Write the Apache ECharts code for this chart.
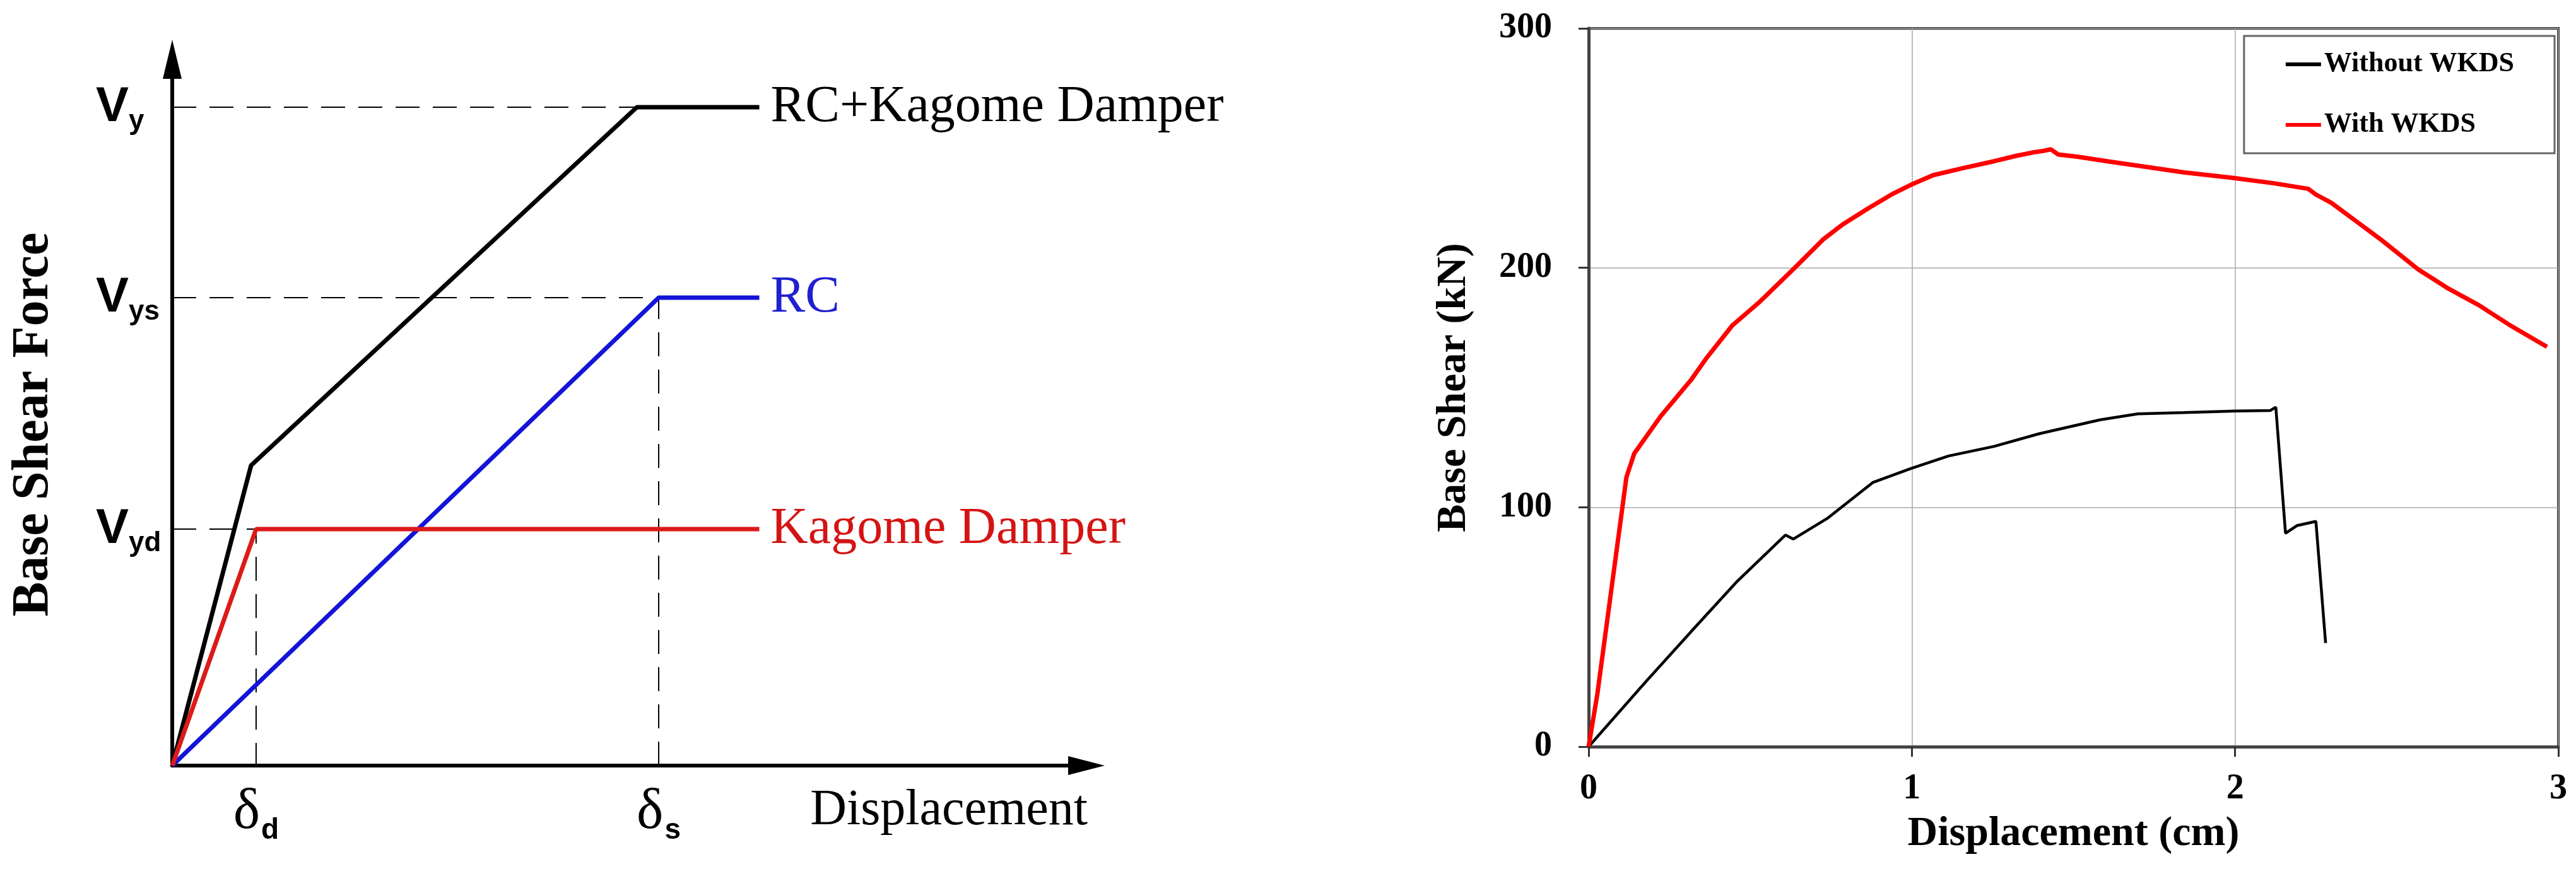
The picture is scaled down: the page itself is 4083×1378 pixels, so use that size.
<!DOCTYPE html>
<html><head><meta charset="utf-8">
<script src="https://cdn.jsdelivr.net/npm/echarts@6/dist/echarts.min.js"></script>
<style>html,body{margin:0;padding:0;background:#fff}#c{width:4083px;height:1378px}</style>
</head><body><div id="c"></div>
<script>
// ---------- Left panel (schematic) ----------
const schemNames = ['RC+Kagome Damper', 'RC', 'Kagome Damper'];
const deltaD = 1.0, deltaS = 5.8;
const Vyd = 3.75, Vys = 7.42, Vy = 10.44;
const combinedX = [0, 0.94, 5.54, 7.0];
const combinedY = [0, 4.76, 10.44, 10.44];
const rcX = [0, 5.8, 7.0];
const rcY = [0, 7.42, 7.42];
const damperX = [0, 1.0, 7.0];
const damperY = [0, 3.75, 3.75];
const yTickValues = [Vyd, Vys, Vy];
const yTickSubs = ['yd', 'ys', 'y'];
const xTickValues = [deltaD, deltaS];
const xTickSubs = ['d', 's'];

// ---------- Right panel (test results) ----------
const legendNames = ['Without WKDS', 'With WKDS'];
const dispWithout = [0, 0.176, 0.316, 0.457, 0.609, 0.633, 0.738, 0.879, 0.996, 1.113, 1.254, 1.394, 1.582, 1.699, 1.84, 2.004, 2.109, 2.126, 2.156, 2.191, 2.25, 2.28];
const shearWithout = [0, 27, 47.9, 68.7, 88.4, 86.7, 95.3, 110.3, 116.1, 121.4, 125.4, 130.7, 136.5, 139, 139.5, 140.2, 140.4, 141.8, 89.1, 92.3, 94.1, 43.3];
const dispWith = [0, 0.027, 0.117, 0.141, 0.223, 0.316, 0.363, 0.445, 0.527, 0.633, 0.727, 0.785, 0.867, 0.937, 0.996, 1.066, 1.16, 1.254, 1.324, 1.383, 1.406, 1.43, 1.453, 1.512, 1.605, 1.723, 1.84, 1.992, 2.12, 2.226, 2.25, 2.297, 2.379, 2.449, 2.566, 2.66, 2.754, 2.847, 2.965];
const shearWith = [0, 22, 112.6, 122.4, 138, 153, 162, 176, 185.5, 199.4, 212, 218, 225, 230.6, 234.6, 238.7, 241.7, 244.5, 246.8, 248.4, 248.8, 249.5, 247.3, 246.4, 244.5, 242.2, 239.9, 237.6, 235.3, 233, 230.6, 227.2, 219, 212, 199.4, 191.3, 184.4, 176.3, 167];

function zip(a, b) { return a.map((v, i) => [v, b[i]]); }
function idxOf(arr, v) { for (let i = 0; i < arr.length; i++) if (Math.abs(arr[i] - v) < 1e-6) return i; return -1; }

const serif = 'Liberation Serif';
const sans = 'Liberation Sans';
const dash = { color: '#000', width: 2, type: [38, 21] };

const chart = echarts.init(document.getElementById('c'), null, { renderer: 'canvas' });
chart.setOption({
  animation: false,
  backgroundColor: '#fff',
  grid: [
    { left: 273, top: 94, width: 1449, height: 1120, containLabel: false },
    { left: 2518, top: 45, width: 1537, height: 1139, containLabel: false, show: true, borderColor: '#333', borderWidth: 4, backgroundColor: 'transparent' }
  ],
  legend: {
    data: legendNames, orient: 'vertical', right: 34, top: 57,
    itemWidth: 56, itemHeight: 6, icon: 'rect', itemGap: 52,
    padding: [23, 64, 23, 66], borderColor: '#666', borderWidth: 3, backgroundColor: '#fff',
    textStyle: { fontFamily: serif, fontWeight: 'bold', fontSize: 44, color: '#000' }
  },
  xAxis: [
    {
      gridIndex: 0, type: 'value', min: 0, max: 10.9,
      axisLine: { show: true, symbol: ['none', 'triangle'], symbolSize: [30, 58], lineStyle: { color: '#000', width: 6 } },
      axisTick: { show: false }, splitLine: { show: false },
      axisLabel: {
        customValues: xTickValues, margin: 24,
        formatter: v => { const i = idxOf(xTickValues, v); return i < 0 ? '' : '{d|δ}{s|' + xTickSubs[i] + '}'; },
        rich: {
          d: { fontFamily: serif, fontSize: 90, color: '#000' },
          s: { fontFamily: sans, fontWeight: 'bold', fontSize: 46, color: '#000', padding: [56, 0, 0, 2] }
        }
      },
      name: 'Displacement', nameLocation: 'end', nameGap: 2,
      nameTextStyle: { fontFamily: serif, fontSize: 80, color: '#000', align: 'right', verticalAlign: 'top', padding: [32, 0, 0, 0] }
    },
    {
      gridIndex: 1, type: 'value', min: 0, max: 3, interval: 1,
      axisLine: { show: true, onZero: false, lineStyle: { color: '#444', width: 5 } },
      axisTick: { show: true, length: 16, lineStyle: { color: '#333', width: 3 } },
      splitLine: { show: true, lineStyle: { color: '#a8a8a8', width: 1.5 } },
      axisLabel: { fontFamily: serif, fontWeight: 'bold', fontSize: 56, color: '#000', margin: 40 },
      name: 'Displacement (cm)', nameLocation: 'middle', nameGap: 106,
      nameTextStyle: { fontFamily: serif, fontWeight: 'bold', fontSize: 66, color: '#000' }
    }
  ],
  yAxis: [
    {
      gridIndex: 0, type: 'value', min: 0, max: 11.2,
      axisLine: { show: true, symbol: ['none', 'triangle'], symbolSize: [30, 62], lineStyle: { color: '#000', width: 6 } },
      axisTick: { show: false }, splitLine: { show: false },
      axisLabel: {
        customValues: yTickValues, margin: 121, align: 'left',
        formatter: v => { const i = idxOf(yTickValues, v); return i < 0 ? '' : '{v|V}{s|' + yTickSubs[i] + '}'; },
        rich: {
          v: { fontFamily: sans, fontWeight: 'bold', fontSize: 78, color: '#000' },
          s: { fontFamily: sans, fontWeight: 'bold', fontSize: 44, color: '#000', padding: [46, 0, 0, 0] }
        }
      },
      name: 'Base Shear Force', nameLocation: 'middle', nameRotate: 90, nameGap: 178,
      nameTextStyle: { fontFamily: serif, fontWeight: 'bold', fontSize: 82, color: '#000', padding: [0, 38, 0, 0] }
    },
    {
      gridIndex: 1, type: 'value', min: 0, max: 300, interval: 100,
      axisLine: { show: true, onZero: false, lineStyle: { color: '#444', width: 5 } },
      axisTick: { show: true, length: 16, lineStyle: { color: '#333', width: 3 } },
      splitLine: { show: true, lineStyle: { color: '#a8a8a8', width: 1.5 } },
      axisLabel: { fontFamily: serif, fontWeight: 'bold', fontSize: 56, color: '#000', margin: 58 },
      name: 'Base Shear (kN)', nameLocation: 'middle', nameRotate: 90, nameGap: 180,
      nameTextStyle: { fontFamily: serif, fontWeight: 'bold', fontSize: 66, color: '#000' }
    }
  ],
  series: [
    // dashed guide lines (left)
    { type: 'line', xAxisIndex: 0, yAxisIndex: 0, symbol: 'none', lineStyle: dash, data: [[0, Vy], [combinedX[2], Vy]], silent: true },
    { type: 'line', xAxisIndex: 0, yAxisIndex: 0, symbol: 'none', lineStyle: dash, data: [[0, Vys], [deltaS, Vys], [deltaS, 0]], silent: true },
    { type: 'line', xAxisIndex: 0, yAxisIndex: 0, symbol: 'none', lineStyle: dash, data: [[0, Vyd], [deltaD, Vyd], [deltaD, 0]], silent: true },
    {
      name: schemNames[0], type: 'line', xAxisIndex: 0, yAxisIndex: 0, symbol: 'none',
      lineStyle: { color: '#000', width: 7 }, data: zip(combinedX, combinedY),
      endLabel: { show: true, formatter: schemNames[0], distance: 18, fontFamily: serif, fontSize: 82, color: '#000' }
    },
    {
      name: schemNames[1], type: 'line', xAxisIndex: 0, yAxisIndex: 0, symbol: 'none',
      lineStyle: { color: '#1414d8', width: 7 }, data: zip(rcX, rcY),
      endLabel: { show: true, formatter: schemNames[1], distance: 18, fontFamily: serif, fontSize: 82, color: '#2020d0' }
    },
    {
      name: schemNames[2], type: 'line', xAxisIndex: 0, yAxisIndex: 0, symbol: 'none',
      lineStyle: { color: '#dc1a1a', width: 7 }, data: zip(damperX, damperY),
      endLabel: { show: true, formatter: schemNames[2], distance: 18, fontFamily: serif, fontSize: 82, color: '#d41414' }
    },
    // right panel
    {
      name: legendNames[0], type: 'line', xAxisIndex: 1, yAxisIndex: 1, symbol: 'none',
      itemStyle: { color: '#000' }, lineStyle: { color: '#000', width: 4.5 }, data: zip(dispWithout, shearWithout)
    },
    {
      name: legendNames[1], type: 'line', xAxisIndex: 1, yAxisIndex: 1, symbol: 'none',
      itemStyle: { color: '#ff0000' }, lineStyle: { color: '#ff0000', width: 7 }, data: zip(dispWith, shearWith)
    }
  ]
});
</script></body></html>
